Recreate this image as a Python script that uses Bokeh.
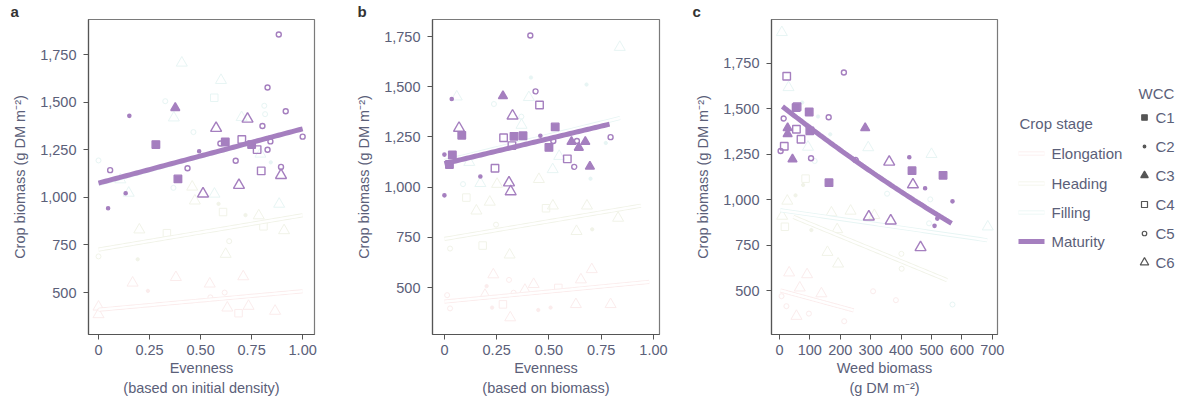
import numpy as np
from bokeh.plotting import figure
from bokeh.layouts import row
from bokeh.models import ColumnDataSource, FixedTicker, NumeralTickFormatter, Range1d
from bokeh.embed import file_html
from bokeh.resources import INLINE
from bokeh.core.properties import value

# ---------------- data ----------------
STAGES = ["Elongation", "Heading", "Filling", "Maturity"]
WCC = ["C1", "C2", "C3", "C4", "C5", "C6"]

# Panel a: evenness (initial density)
a_mat_x = [0.883, 0.828, 0.376, 0.151, 0.917, 0.730, 0.803, 0.576, 1.000, 0.281, 0.621, 0.702, 0.597, 0.750, 0.777,
           0.842, 0.828, 0.493, 0.672, 0.057, 0.436, 0.389, 0.797, 0.894, 0.894, 0.688, 0.512, 0.133, 0.047]
a_mat_y = [1855, 1577, 1470, 1428, 1452, 1412, 1375, 1363, 1319, 1277, 1291, 1304, 1283, 1277, 1251,
           1294, 1250, 1242, 1192, 1143, 1153, 1097, 1139, 1160, 1116, 1064, 1019, 1022, 943]
a_mat_w = ["C5", "C5", "C3", "C2", "C5", "C6", "C5", "C6", "C5", "C1", "C1", "C4", "C5", "C1", "C4",
           "C5", "C5", "C2", "C5", "C5", "C5", "C1", "C4", "C5", "C6", "C6", "C6", "C2", "C2"]
a_fil_x = [0.408, 0.600, 0.567, 0.327, 0.369, 0.812, 0.816, 0.701, 0.465, 0.0, 0.107, 0.148, 0.844, 0.793, 0.367, 0.568, 0.885]
a_fil_y = [1706, 1615, 1523, 1505, 1418, 1481, 1437, 1420, 1343, 1194, 1093, 1023, 1184, 1228, 1050, 1018, 965]
a_fil_w = ["C6", "C6", "C4", "C5", "C6", "C5", "C5", "C6", "C5", "C5", "C6", "C6", "C2", "C6", "C5", "C6", "C6"]
a_hea_x = [0.459, 0.472, 0.588, 0.610, 0.720, 0.785, 0.808, 0.909, 0.200, 0.335, 0.623, 0.192, 0.0, 0.640]
a_hea_y = [1055, 982, 966, 923, 907, 904, 848, 826, 830, 812, 702, 675, 690, 770]
a_hea_w = ["C6", "C6", "C2", "C4", "C2", "C6", "C4", "C6", "C6", "C4", "C6", "C2", "C5", "C5"]
a_elo_x = [0.167, 0.379, 0.242, 0.545, 0.709, 0.0, 0.631, 0.735, 0.865, 0.548, 0.618, 0.686, 0.0]
a_elo_y = [551, 580, 509, 546, 584, 425, 420, 429, 403, 475, 500, 392, 385]
a_elo_w = ["C6", "C6", "C2", "C6", "C6", "C6", "C6", "C6", "C6", "C5", "C5", "C4", "C6"]
# fitted curves (Elongation, Heading, Filling, Maturity): y = b0 + b1*x + b2*x^2 over [x0, x1]
a_fit_b0 = [410, 726, 1070, 1075]
a_fit_b1 = [97, 180, 290, 285]
a_fit_b2 = [0, 0, 0, 0]
a_fit_x0 = [0.0, 0.0, 0.0, 0.0]
a_fit_x1 = [1.0, 1.0, 0.92, 1.0]

# Panel b: evenness (biomass)
b_mat_x = [0.411, 0.280, 0.035, 0.436, 0.455, 0.326, 0.070, 0.083, 0.530, 0.283, 0.333, 0.376, 0.459, 0.323, 0.521,
           0.500, 0.608, 0.634, 0.674, 0.643, 0.795, 0.588, 0.621, 0.696, 0.038, 0.024, 0.000, 0.172, 0.242, 0.309,
           0.317, 0.000]
b_mat_y = [1755, 1454, 1439, 1477, 1409, 1355, 1294, 1258, 1300, 1246, 1253, 1256, 1256, 1207, 1230,
           1198, 1226, 1230, 1226, 1197, 1249, 1141, 1101, 1103, 1160, 1113, 1162, 1053, 1094, 1022,
           978, 959]
b_mat_w = ["C5", "C3", "C2", "C5", "C4", "C6", "C6", "C1", "C1", "C4", "C1", "C1", "C2", "C4", "C5",
           "C1", "C3", "C5", "C3", "C3", "C5", "C4", "C5", "C3", "C1", "C1", "C2", "C2", "C4", "C6",
           "C6", "C2"]
b_fil_x = [0.839, 0.414, 0.680, 0.059, 0.237, 0.404, 0.369, 0.368, 0.119, 0.172, 0.089, 0.518, 0.772, 0.549, 0.699]
b_fil_y = [1697, 1546, 1511, 1450, 1414, 1447, 1309, 1351, 1124, 1019, 1015, 1088, 1220, 1154, 1042]
b_fil_w = ["C6", "C2", "C2", "C6", "C5", "C6", "C6", "C5", "C6", "C6", "C5", "C6", "C2", "C6", "C2"]
b_hea_x = [0.252, 0.452, 0.105, 0.217, 0.153, 0.486, 0.519, 0.682, 0.831, 0.632, 0.707, 0.183, 0.312, 0.027, 0.247]
b_hea_y = [1015, 1039, 948, 926, 882, 895, 907, 907, 846, 780, 790, 709, 663, 694, 813]
b_hea_w = ["C6", "C6", "C4", "C6", "C6", "C4", "C6", "C6", "C6", "C6", "C2", "C4", "C6", "C5", "C5"]
b_elo_x = [0.234, 0.427, 0.705, 0.653, 0.194, 0.385, 0.309, 0.202, 0.331, 0.545, 0.315, 0.280, 0.449, 0.508, 0.629,
           0.795, 0.228, 0.027, 0.013]
b_elo_y = [564, 516, 590, 539, 462, 487, 538, 507, 474, 498, 350, 416, 388, 400, 416, 416, 400, 396, 462]
b_elo_w = ["C6", "C6", "C6", "C6", "C6", "C6", "C5", "C2", "C5", "C4", "C6", "C4", "C2", "C2", "C6",
           "C6", "C2", "C5", "C5"]
b_fit_b0 = [430, 742, 1130, 1117]
b_fit_b1 = [100, 176, 255, 249]
b_fit_b2 = [0, 0, 0, 0]
b_fit_x0 = [0.0, 0.0, 0.0, 0.0]
b_fit_x1 = [0.98, 0.94, 0.84, 0.79]

# Panel c: weed biomass
c_mat_x = [24, 212, 55, 58, 98, 14, 162, 282, 27, 27, 56, 100, 71, 16, 4, 43, 104, 251, 361, 427, 436, 538,
           163, 439, 479, 569, 294, 366, 519, 510, 464]
c_mat_y = [1680, 1700, 1507, 1512, 1483, 1447, 1454, 1395, 1395, 1362, 1388, 1379, 1333, 1294, 1268, 1223, 1228,
           1219, 1208, 1234, 1160, 1134, 1094, 1083, 1063, 991, 906, 884, 896, 856, 737]
c_mat_w = ["C4", "C5", "C1", "C4", "C1", "C5", "C5", "C3", "C3", "C3", "C4", "C1", "C4", "C4", "C5", "C3", "C5",
           "C5", "C6", "C2", "C1", "C1", "C1", "C6", "C2", "C2", "C6", "C6", "C2", "C2", "C6"]
c_fil_x = [8, 30, 292, 500, 685, 127, 167, 75, 94, 116, 354, 496, 492, 569]
c_fil_y = [1921, 1618, 1287, 1250, 851, 1458, 1360, 1535, 1290, 1213, 1033, 1002, 870, 423]
c_fil_w = ["C6", "C6", "C6", "C6", "C6", "C2", "C2", "C2", "C6", "C5", "C5", "C5", "C5", "C5"]
c_hea_x = [234, 171, 190, 158, 193, 86, 78, 26, 9, 18, 105, 312, 53, 402, 401]
c_hea_y = [938, 928, 836, 711, 647, 1116, 1081, 993, 910, 851, 833, 914, 1024, 620, 702]
c_hea_w = ["C6", "C6", "C6", "C6", "C6", "C4", "C2", "C6", "C6", "C4", "C2", "C6", "C2", "C5", "C5"]
c_elo_x = [32, 91, 138, 56, 97, 213, 308, 383, 7, 23, 67]
c_elo_y = [598, 588, 483, 359, 373, 331, 496, 447, 469, 414, 515]
c_elo_w = ["C6", "C6", "C6", "C6", "C5", "C5", "C5", "C5", "C5", "C5", "C6"]
c_fit_b0 = [502, 937, 943, 1526.2]
c_fit_b1 = [-0.456, -0.689, -0.243, -1.318]
c_fit_b2 = [0, 0, 0, 0.0002803]
c_fit_x0 = [3, 46, 3, 10]
c_fit_x1 = [244, 551, 683, 566]

y_ticks = [500, 750, 1000, 1250, 1500, 1750]
even_ticks = [0, 0.25, 0.5, 0.75, 1.0]
even_tick_labels = ["0", "0.25", "0.50", "0.75", "1.00"]
weed_ticks = [0, 100, 200, 300, 400, 500, 600, 700]

# ---------------- style ----------------
FONT = "Liberation Sans"
TXT = "#5b6079"
AXC = "#555555"
PURPLE = "#a57fbf"
STAGE_COLOR = {"Elongation": "#fbecec", "Heading": "#f1f3e8", "Filling": "#e7f5f4", "Maturity": PURPLE}
MARKER = {"C1": "square", "C2": "circle", "C3": "triangle", "C4": "square", "C5": "circle", "C6": "triangle"}
FILLED = {"C1": 1.0, "C2": 1.0, "C3": 1.0, "C4": 0.0, "C5": 0.0, "C6": 0.0}
SIZE = {"C1": 7.5, "C2": 3.2, "C3": 9, "C4": 7.5, "C5": 5, "C6": 11}
LEG_SIZE = {"C1": 5.5, "C2": 2.6, "C3": 7.5, "C4": 6, "C5": 4.5, "C6": 8.5}
H = 401
TOP, BOTTOM = 19, 67


def add_points(p, xs, ys, ws, color, lw=1.3, sizes=SIZE):
    src = ColumnDataSource(dict(x=xs, y=ys, marker=[MARKER[w] for w in ws],
                                size=[sizes[w] for w in ws], fa=[FILLED[w] for w in ws]))
    p.scatter("x", "y", source=src, marker="marker", size="size", fill_color=color,
              fill_alpha="fa", line_color=color, line_width=lw)


def fit_line(b0, b1, b2, x0, x1):
    xs = np.linspace(x0, x1, 60)
    return xs, b0 + b1 * xs + b2 * xs ** 2


def make_panel(letter, letter_dx, pts, fits, xr, yr, xticks, xlabels, xtitle, width, bl, br):
    p = figure(width=width, height=H, x_range=Range1d(*xr), y_range=Range1d(*yr),
               output_backend="svg", toolbar_location=None, title=letter,
               min_border_left=bl, min_border_right=br, min_border_top=TOP, min_border_bottom=BOTTOM)
    p.title.align = "left"
    p.title.offset = letter_dx
    p.title.standoff = 0
    p.title.text_font = FONT
    p.title.text_font_size = "15px"
    p.title.text_font_style = "bold"
    p.title.text_color = "#333333"
    p.background_fill_color = "white"
    p.border_fill_color = "white"
    p.xgrid.visible = False
    p.ygrid.visible = False
    p.outline_line_color = "#7a7a7a"
    p.outline_line_width = 1.2
    for ax in (p.xaxis[0], p.yaxis[0]):
        ax.axis_line_color = AXC
        ax.axis_line_width = 1.2
        ax.major_tick_line_color = AXC
        ax.major_tick_out = 5
        ax.major_tick_in = 0
        ax.minor_tick_line_color = None
        ax.major_label_text_font = FONT
        ax.major_label_text_font_size = "14.5px"
        ax.major_label_text_color = TXT
        ax.axis_label_text_font = FONT
        ax.axis_label_text_font_size = "14.5px"
        ax.axis_label_text_font_style = "normal"
        ax.axis_label_text_color = TXT
    p.yaxis.ticker = FixedTicker(ticks=y_ticks)
    p.yaxis.formatter = NumeralTickFormatter(format="0,0")
    p.yaxis.major_label_standoff = 7
    p.yaxis.axis_label = "Crop biomass (g DM m\u207b\u00b2)"
    p.yaxis.axis_label_standoff = 9
    p.xaxis.ticker = FixedTicker(ticks=xticks)
    p.xaxis.major_label_overrides = {t: l for t, l in zip(xticks, xlabels)}
    p.xaxis.major_label_standoff = 5
    p.xaxis.axis_label = xtitle
    p.xaxis.axis_label_standoff = 2
    p.xaxis.axis_label_text_line_height = 1.25

    # earlier stages (faint) then maturity
    for stage in STAGES[:-1]:
        xs, ys, ws = pts[stage]
        b0, b1, b2, x0, x1 = fits[stage]
        lx, ly = fit_line(b0, b1, b2, x0, x1)
        col = STAGE_COLOR[stage]
        add_points(p, xs, ys, ws, col, lw=1.0)
        p.line(lx, ly, line_color=col, line_width=4.2)
        p.line(lx, ly, line_color="white", line_width=2.4)
    xs, ys, ws = pts["Maturity"]
    add_points(p, xs, ys, ws, PURPLE, lw=1.4)
    b0, b1, b2, x0, x1 = fits["Maturity"]
    lx, ly = fit_line(b0, b1, b2, x0, x1)
    p.line(lx, ly, line_color=PURPLE, line_width=5)
    return p


def pack(mx, my, mw, fx, fy, fw_, hx, hy, hw, ex, ey, ew):
    return {"Maturity": (mx, my, mw), "Filling": (fx, fy, fw_), "Heading": (hx, hy, hw), "Elongation": (ex, ey, ew)}


def fits_of(b0, b1, b2, x0, x1):
    return {s: (b0[i], b1[i], b2[i], x0[i], x1[i]) for i, s in enumerate(STAGES)}


pa = make_panel("a", -78, pack(a_mat_x, a_mat_y, a_mat_w, a_fil_x, a_fil_y, a_fil_w, a_hea_x, a_hea_y, a_hea_w,
                               a_elo_x, a_elo_y, a_elo_w),
                fits_of(a_fit_b0, a_fit_b1, a_fit_b2, a_fit_x0, a_fit_x1),
                (-0.049, 1.058), (280, 1934), even_ticks, even_tick_labels,
                "Evenness\n(based on initial density)", 338, 88, 24)
pb = make_panel("b", -75, pack(b_mat_x, b_mat_y, b_mat_w, b_fil_x, b_fil_y, b_fil_w, b_hea_x, b_hea_y, b_hea_w,
                               b_elo_x, b_elo_y, b_elo_w),
                fits_of(b_fit_b0, b_fit_b1, b_fit_b2, b_fit_x0, b_fit_x1),
                (-0.057, 1.029), (266, 1835), even_ticks, even_tick_labels,
                "Evenness\n(based on biomass)", 342, 94, 21)
pc = make_panel("c", -79, pack(c_mat_x, c_mat_y, c_mat_w, c_fil_x, c_fil_y, c_fil_w, c_hea_x, c_hea_y, c_hea_w,
                               c_elo_x, c_elo_y, c_elo_w),
                fits_of(c_fit_b0, c_fit_b1, c_fit_b2, c_fit_x0, c_fit_x1),
                (-26, 717), (258, 1992), weed_ticks, [str(t) for t in weed_ticks],
                "Weed biomass\n(g DM m\u207b\u00b2)", 327, 91, 10)

# ---------------- legend figure (coordinates = page pixels inside the frame) ----------------
LW = 175
lg = figure(width=LW, height=H, x_range=Range1d(0, LW), y_range=Range1d(H - BOTTOM, TOP),
            output_backend="svg", toolbar_location=None, x_axis_location=None, y_axis_location=None,
            min_border_left=0, min_border_right=0, min_border_top=TOP, min_border_bottom=BOTTOM)
lg.xgrid.visible = False
lg.ygrid.visible = False
lg.outline_line_color = None

stage_y = [153, 183, 212, 241]
for s, yy in zip(STAGES, stage_y):
    if s == "Maturity":
        lg.line([11, 37], [yy, yy], line_color=PURPLE, line_width=5)
    else:
        lg.line([11, 37], [yy, yy], line_color=STAGE_COLOR[s], line_width=4.2)
        lg.line([11, 37], [yy, yy], line_color="white", line_width=2.4)
lg.text(x=[12], y=[123], text=["Crop stage"], text_font=value(FONT), text_font_size="15px",
        text_color=TXT, text_baseline="middle", text_align="left")
lg.text(x=[44] * len(STAGES), y=stage_y, text=STAGES, text_font=value(FONT), text_font_size="15px",
        text_color=TXT, text_baseline="middle", text_align="left")

wcc_y = [117 + 29 * i for i in range(len(WCC))]
lg.text(x=[131], y=[93], text=["WCC"], text_font=value(FONT), text_font_size="15px",
        text_color=TXT, text_baseline="middle", text_align="left")
add_points(lg, [137] * len(WCC), wcc_y, WCC, "#555555", lw=1.2, sizes=LEG_SIZE)
lg.text(x=[148] * len(WCC), y=wcc_y, text=WCC, text_font=value(FONT), text_font_size="15px",
        text_color=TXT, text_baseline="middle", text_align="left")

layout = row(pa, pb, pc, lg, spacing=0)
open("out.html", "w").write(file_html(layout, INLINE))
